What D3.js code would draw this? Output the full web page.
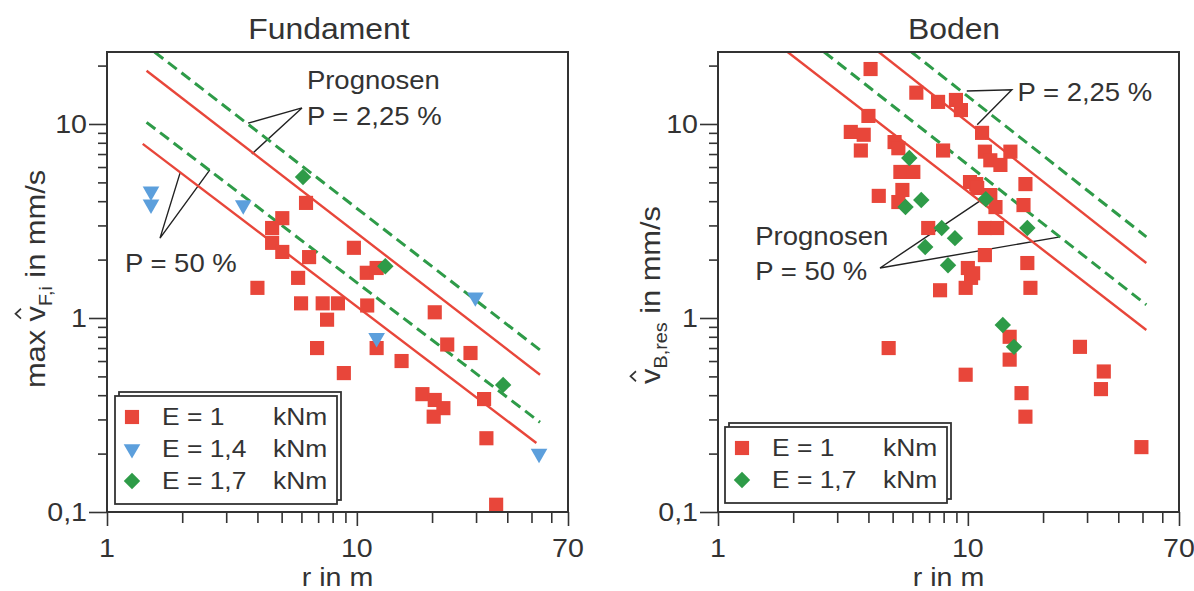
<!DOCTYPE html>
<html>
<head>
<meta charset="utf-8">
<script src="https://cdn.jsdelivr.net/npm/d3@7"></script>
<style>
  html, body { margin: 0; padding: 0; background: #fff; }
  svg { display: block; font-family: "Liberation Sans", Arial, sans-serif; }
</style>
</head>
<body>
<script>
'use strict';

// tick values
var xTicksMajor = [1, 10, 70];
var xTicksMinor = [2, 3, 4, 5, 6, 7, 8, 9, 20, 30, 40, 50, 60];
var yTicksMajor = [0.1, 1, 10];
var yTicksMinor = [0.2, 0.3, 0.4, 0.5, 0.6, 0.7, 0.8, 0.9, 2, 3, 4, 5, 6, 7, 8, 9, 20];

// Fundament: [r in m, v in mm/s]
var fundE1 = [
  [4.0, 1.43], [4.58, 2.91], [4.58, 2.44], [5.03, 3.27], [5.03, 2.19], [6.26, 3.92],
  [6.44, 2.06], [5.82, 1.61], [5.98, 1.19], [7.3, 1.19], [8.4, 1.19], [7.6, 0.98],
  [6.93, 0.70], [8.87, 0.52], [9.73, 2.30], [10.96, 1.71], [12.0, 1.81], [11.0, 1.16],
  [12.0, 0.70], [15.1, 0.60], [20.5, 1.07], [23.0, 0.73], [28.5, 0.66], [18.3, 0.405],
  [20.5, 0.378], [22.2, 0.343], [20.3, 0.31], [32.3, 0.382], [33.0, 0.24], [36.1, 0.109]
];
var fundE14 = [[1.5, 4.5], [1.5, 3.85], [3.51, 3.82], [12.0, 0.79], [29.8, 1.28], [53.6, 0.20]];
var fundE17 = [[6.09, 5.33], [13.0, 1.85], [38.5, 0.452]];

// Boden: [r in m, v in mm/s]
var bodenE1 = [
  [4.08, 19.2], [4.0, 11.0], [3.40, 9.1], [3.83, 8.8], [3.73, 7.3], [6.22, 14.5],
  [7.6, 13.0], [8.96, 13.3], [9.38, 11.8], [5.09, 8.07], [5.27, 7.5], [5.37, 5.66],
  [6.05, 5.66], [4.4, 4.26], [5.47, 4.57], [5.27, 3.96], [7.96, 7.3], [6.94, 2.91],
  [7.74, 1.39], [10.0, 1.81], [10.3, 1.61], [9.8, 1.43], [10.2, 5.02], [10.8, 4.9],
  [11.4, 9.0], [11.7, 7.2], [11.7, 2.91], [11.7, 2.11], [12.3, 6.5], [13.5, 6.15],
  [14.8, 7.2], [10.9, 4.68], [12.3, 4.3], [12.9, 3.73], [17.0, 4.9], [16.7, 3.82],
  [13.1, 2.91], [17.3, 1.92], [17.8, 1.43], [14.7, 0.80], [14.7, 0.61], [9.8, 0.51],
  [16.4, 0.41], [17.0, 0.31], [28.1, 0.71], [35.0, 0.53], [34.1, 0.43], [49.5, 0.216],
  [4.82, 0.70], [10.5, 1.7]
];
var bodenE17 = [
  [5.83, 6.68], [5.63, 3.73], [6.51, 4.06], [7.86, 2.91], [8.88, 2.58], [6.75, 2.32],
  [8.33, 1.87], [11.8, 4.1], [17.3, 2.91], [13.8, 0.92], [15.3, 0.71]
];

// prognosis lines (start, end)
var fundRed225 = [[1.44, 18.8], [54.1, 0.51]];
var fundRed50 = [[1.39, 7.9], [52.3, 0.227]];
var fundGreen225 = [[1.55, 23.5], [54.1, 0.684]];
var fundGreen50 = [[1.44, 10.2], [54.1, 0.29]];
var bodenRed225 = [[4.4, 23.5], [51.8, 1.92]];
var bodenRed50 = [[1.9, 23.5], [51.8, 0.867]];
var bodenGreen225 = [[5.95, 23.5], [51.8, 2.62]];
var bodenGreen50 = [[2.66, 23.5], [51.8, 1.17]];

// leader lines for the labels (end, apex, end)
var fundLeader225 = [[3.67, 10.1], [6.03, 12.1], [3.8, 7.0]];
var fundLeader50 = [[1.96, 5.58], [1.63, 2.58], [2.58, 5.8]];
var bodenLeader225 = [[9.9, 14.8], [15.0, 15.0], [10.9, 9.9]];
var bodenLeader50 = [[11.5, 4.11], [4.45, 1.81], [23.4, 2.62]];

var W = 1194, H = 591;
var PW = 461, TOP = 52, BOTTOM = 512;
var SX = 1.1;            // the scanned lettering is a bit wider than Arial
var ink = '#333';
var red = '#e8463a', blue = '#5c9fdc', green = '#2e9b48';

var svg = d3.select('body').append('svg')
    .attr('width', W)
    .attr('height', H);

function fmt(d) { return String(d).replace('.', ','); }

function label(sel, x, y, s, size, anchor) {
  return sel.append('text')
    .attr('transform', 'translate(' + x + ',' + y + ') scale(' + SX + ',1)')
    .attr('text-anchor', anchor || 'start')
    .attr('font-size', size)
    .attr('fill', ink)
    .text(s);
}

function marker(kind) {
  if (kind === 'square') return d3.symbol(d3.symbolSquare, 200)();
  if (kind === 'tri') return d3.symbol(d3.symbolTriangle, 120)();
  return d3.symbol(d3.symbolSquare, 135)();
}
function markerRot(kind) {
  if (kind === 'tri') return ' rotate(180)';
  if (kind === 'diamond') return ' rotate(45)';
  return '';
}

function drawPanel(p) {
  var x = d3.scaleLog().domain([1, 70]).range([p.left, p.left + PW]);
  var y = d3.scaleLog().domain([0.1, 23.5]).range([BOTTOM, TOP]);
  var g = svg.append('g');

  g.append('clipPath').attr('id', 'clip-' + p.id)
    .append('rect')
      .attr('x', p.left).attr('y', TOP)
      .attr('width', PW).attr('height', BOTTOM - TOP);

  // ticks
  function tickStyle(a) {
    a.select('.domain').remove();
    a.selectAll('line').attr('stroke', ink).attr('stroke-width', 1.6);
  }
  g.append('g').attr('transform', 'translate(' + p.left + ',0)')
    .call(d3.axisLeft(y).tickValues(yTicksMajor).tickSize(18).tickFormat(''))
    .call(tickStyle);
  g.append('g').attr('transform', 'translate(' + p.left + ',0)')
    .call(d3.axisLeft(y).tickValues(yTicksMinor).tickSize(9).tickFormat(''))
    .call(tickStyle);
  g.append('g').attr('transform', 'translate(0,' + BOTTOM + ')')
    .call(d3.axisBottom(x).tickValues(xTicksMajor).tickSize(14).tickFormat(''))
    .call(tickStyle);
  g.append('g').attr('transform', 'translate(0,' + BOTTOM + ')')
    .call(d3.axisBottom(x).tickValues(xTicksMinor).tickSize(11).tickFormat(''))
    .call(tickStyle);

  yTicksMajor.forEach(function(d) {
    label(g, p.left - 20, y(d) + 9, fmt(d), 26, 'end');
  });
  xTicksMajor.forEach(function(d) {
    label(g, x(d), 557, fmt(d), 26, 'middle');
  });
  label(g, p.left + PW / 2, 585.5, 'r in m', 26, 'middle');
  label(g, p.titleX, 39, p.title, 29, 'middle');

  // rotated y label with hat over the v
  var yl = g.append('g')
    .attr('transform', 'translate(' + p.ylabX + ',' + p.ylabY + ') rotate(-90) scale(' + SX + ',1)');
  var t = yl.append('text')
    .attr('text-anchor', 'middle')
    .attr('font-size', 28)
    .attr('fill', ink);
  t.append('tspan').text(p.ylabPre);
  t.append('tspan').attr('font-size', 18).attr('dy', 7).text(p.ylabSub);
  t.append('tspan').attr('dy', -7).text(' in mm/s');
  var vi = p.ylabPre.length - 1;
  var ext = t.node().getExtentOfChar(vi);
  var cx = ext.x + ext.width / 2;
  yl.append('path')
    .attr('d', 'M' + (cx - 4.5) + ',-24 L' + cx + ',-29.5 L' + (cx + 4.5) + ',-24')
    .attr('fill', 'none')
    .attr('stroke', ink)
    .attr('stroke-width', 1.6);

  var line = d3.line().x(function(d) { return x(d[0]); }).y(function(d) { return y(d[1]); });
  var plot = g.append('g').attr('clip-path', 'url(#clip-' + p.id + ')');

  // leader lines
  p.leaders.forEach(function(l) {
    plot.append('path').attr('d', line(l))
      .attr('fill', 'none').attr('stroke', '#222').attr('stroke-width', 1.4);
  });

  // prognosis lines
  p.lines.forEach(function(l) {
    plot.append('path').attr('d', line(l.pts))
      .attr('fill', 'none')
      .attr('stroke', l.dashed ? green : red)
      .attr('stroke-width', l.dashed ? 3 : 2.4)
      .attr('stroke-dasharray', l.dashed ? '11,6' : null);
  });

  // points
  p.series.forEach(function(s) {
    plot.append('g').selectAll('path')
      .data(s.data)
      .join('path')
        .attr('d', marker(s.kind))
        .attr('transform', function(d) {
          return 'translate(' + x(d[0]) + ',' + y(d[1]) + ')' + markerRot(s.kind);
        })
        .attr('fill', s.color);
  });

  // annotations
  p.notes.forEach(function(n) {
    label(g, x(n.at[0]), y(n.at[1]), n.text, 25, 'start');
  });

  // frame
  g.append('rect')
    .attr('x', p.left).attr('y', TOP)
    .attr('width', PW).attr('height', BOTTOM - TOP)
    .attr('fill', 'none')
    .attr('stroke', ink)
    .attr('stroke-width', 2);

  // legend with offset shadow frame
  var L = p.legend;
  var lg = g.append('g').attr('transform', 'translate(' + L.x + ',' + L.y + ')');
  var lh = p.series.length * 32 + 12;
  lg.append('rect').attr('x', 4).attr('y', -4).attr('width', 222).attr('height', lh)
    .attr('fill', '#fff').attr('stroke', ink).attr('stroke-width', 1.8);
  lg.append('rect').attr('x', 0).attr('y', 0).attr('width', 222).attr('height', lh)
    .attr('fill', '#fff').attr('stroke', ink).attr('stroke-width', 1.8);
  p.series.forEach(function(s, i) {
    var cy = 21 + i * 32;
    lg.append('path')
      .attr('d', marker(s.kind))
      .attr('transform', 'translate(17,' + cy + ')' + markerRot(s.kind))
      .attr('fill', s.color);
    label(lg, 47, cy + 8, s.name, 24, 'start');
    label(lg, 158, cy + 8, 'kNm', 24, 'start');
  });
}

drawPanel({
  id: 'fund',
  left: 107,
  title: 'Fundament',
  titleX: 329,
  ylabX: 45, ylabY: 279,
  ylabPre: 'max v', ylabSub: 'F,i',
  series: [
    { name: 'E = 1', kind: 'square', color: red, data: fundE1 },
    { name: 'E = 1,4', kind: 'tri', color: blue, data: fundE14 },
    { name: 'E = 1,7', kind: 'diamond', color: green, data: fundE17 }
  ],
  lines: [
    { pts: fundRed225 }, { pts: fundRed50 },
    { pts: fundGreen225, dashed: true }, { pts: fundGreen50, dashed: true }
  ],
  leaders: [fundLeader225, fundLeader50],
  notes: [
    { text: 'Prognosen', at: [6.31, 15.1] },
    { text: 'P = 2,25 %', at: [6.31, 9.9] },
    { text: 'P = 50 %', at: [1.18, 1.73] }
  ],
  legend: { x: 115, y: 396 }
});

drawPanel({
  id: 'boden',
  left: 718,
  title: 'Boden',
  titleX: 954,
  ylabX: 660, ylabY: 295,
  ylabPre: 'v', ylabSub: 'B,res',
  series: [
    { name: 'E = 1', kind: 'square', color: red, data: bodenE1 },
    { name: 'E = 1,7', kind: 'diamond', color: green, data: bodenE17 }
  ],
  lines: [
    { pts: bodenRed225 }, { pts: bodenRed50 },
    { pts: bodenGreen225, dashed: true }, { pts: bodenGreen50, dashed: true }
  ],
  leaders: [bodenLeader225, bodenLeader50],
  notes: [
    { text: 'P = 2,25 %', at: [15.8, 13.2] },
    { text: 'Prognosen', at: [1.41, 2.38] },
    { text: 'P = 50 %', at: [1.41, 1.57] }
  ],
  legend: { x: 725, y: 427 }
});
</script>
</body>
</html>
